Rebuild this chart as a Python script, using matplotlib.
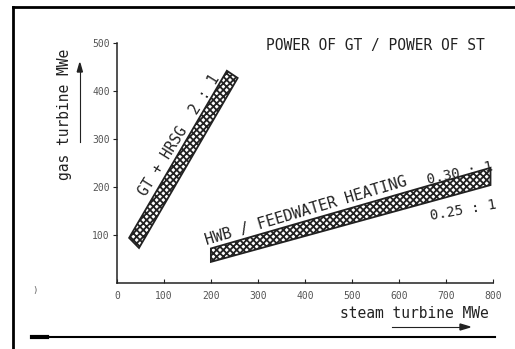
import matplotlib.pyplot as plt
from matplotlib.patches import Polygon
from matplotlib.lines import Line2D

# axis ticks
x_ticks = [0, 100, 200, 300, 400, 500, 600, 700, 800]
y_ticks = [100, 200, 300, 400, 500]

# GT + HRSG band corners (steam MWe, gas MWe)
gt_x = [26, 47, 257, 234]
gt_y = [94, 73, 427, 442]

# HWB / feedwater heating band corners
hwb_x = [200, 200, 795, 795]
hwb_y = [44, 72, 240, 204]

mono = "DejaVu Sans Mono"
ink = "#222222"
plt.rcParams["hatch.linewidth"] = 1.3

fig = plt.figure(figsize=(5.15, 3.49), dpi=100)
ax = fig.add_axes([0.227, 0.189, 0.73, 0.688])
ax.set_xlim(0, 800)
ax.set_ylim(0, 500)

for s in ["top", "right"]:
    ax.spines[s].set_visible(False)
for s in ["left", "bottom"]:
    ax.spines[s].set_linewidth(1.1)
    ax.spines[s].set_color(ink)

ax.set_xticks(x_ticks)
ax.set_yticks(y_ticks)
ax.tick_params(axis="x", direction="in", length=3, labelsize=7, colors=ink, pad=6)
ax.tick_params(axis="y", direction="out", length=3, labelsize=7, colors=ink, pad=2)
for lab in ax.get_xticklabels() + ax.get_yticklabels():
    lab.set_family(mono)
    lab.set_color("#555555")

# hatched bands
for bx, by in [(gt_x, gt_y), (hwb_x, hwb_y)]:
    ax.add_patch(Polygon(list(zip(bx, by)), closed=True, facecolor="white",
                         edgecolor=ink, hatch="xxxxx", linewidth=1.3))

ax.text(133, 308, "GT + HRSG  2 : 1", rotation=58, ha="center", va="center",
        family=mono, fontsize=10.5, color=ink, rotation_mode="anchor")
ax.text(402, 150, "HWB / FEEDWATER HEATING", rotation=16.5, ha="center", va="center",
        family=mono, fontsize=11, color=ink, rotation_mode="anchor")
ax.text(730, 229, "0.30 : 1", rotation=12, ha="center", va="center",
        family=mono, fontsize=10, color=ink, rotation_mode="anchor")
ax.text(738, 152, "0.25 : 1", rotation=10, ha="center", va="center",
        family=mono, fontsize=10, color=ink, rotation_mode="anchor", clip_on=False)

# titles and axis labels
fig.text(0.728, 0.871, "POWER OF GT / POWER OF ST", ha="center", va="center",
         family=mono, fontsize=10.5, color=ink)
fig.text(0.804, 0.103, "steam turbine MWe", ha="center", va="center",
         family=mono, fontsize=10.5, color=ink)
fig.text(0.126, 0.673, "gas turbine MWe", ha="center", va="center", rotation=90,
         family=mono, fontsize=10.5, color=ink)

# arrows next to the axis labels
fig.add_artist(plt.Line2D([0.155, 0.155], [1 - 142 / 349, 1 - 70 / 349],
                          transform=fig.transFigure, color=ink, lw=0.8))
fig.patches.append(plt.Polygon([[0.150, 1 - 72 / 349], [0.160, 1 - 72 / 349],
                                [0.155, 1 - 63 / 349]], closed=True, color=ink,
                               transform=fig.transFigure, figure=fig))
fig.add_artist(plt.Line2D([392 / 515, 462 / 515], [1 - 327 / 349, 1 - 327 / 349],
                          transform=fig.transFigure, color=ink, lw=0.8))
fig.patches.append(plt.Polygon([[460 / 515, 1 - 324 / 349], [460 / 515, 1 - 330 / 349],
                                [470 / 515, 1 - 327 / 349]], closed=True, color=ink,
                               transform=fig.transFigure, figure=fig))

# scanned page border
fig.add_artist(Line2D([13 / 515, 13 / 515], [0, 1 - 7 / 349], transform=fig.transFigure,
                      color="black", lw=2))
fig.add_artist(Line2D([13 / 515, 1], [1 - 7 / 349, 1 - 7 / 349], transform=fig.transFigure,
                      color="black", lw=2))
fig.add_artist(Line2D([32 / 515, 495 / 515], [1 - 337 / 349, 1 - 337 / 349],
                      transform=fig.transFigure, color="black", lw=1.5))
fig.add_artist(Line2D([32 / 515, 47 / 515], [1 - 337 / 349, 1 - 337 / 349],
                      transform=fig.transFigure, color="black", lw=3))
fig.text(35 / 515, 1 - 290 / 349, ")", ha="center", va="center", fontsize=6, color="#555555")

fig.savefig("out.png", dpi=100)
